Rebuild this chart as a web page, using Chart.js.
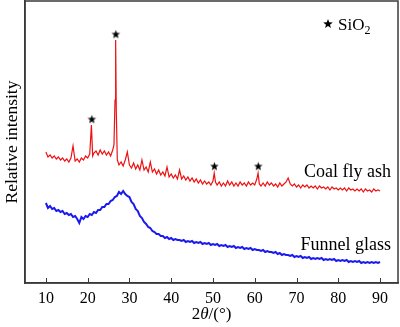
<!DOCTYPE html>
<html>
<head>
<meta charset="utf-8">
<script src="https://cdn.jsdelivr.net/npm/chart.js@4/dist/chart.umd.min.js"></script>
<style>
    html, body { margin:0; padding:0; background:#ffffff; }
    #wrap { width:400px; height:327px; position:relative; }
</style>
</head>
<body>
<div id="wrap"><canvas id="xrdChart"></canvas></div>
<script>
// =====================================================
// XRD patterns - coal fly ash / funnel glass
// =====================================================

// ---------- Data (2θ, relative intensity) ----------

const ashPoints = [
    [10,131],[10.5,126],[11,128],[11.5,125],[12,127],[12.5,124],[13,126],[13.5,123],[14,125],[14.5,122],
    [15,124],[15.5,121],[16,125],[16.5,137],[17,122],[17.5,124],[18,121],[18.5,125],[19,123],[19.5,127],
    [20,125],[20.5,129],[20.9,158],[21.2,127],[21.5,130],[22,132],[22.5,128],[23,133],[23.5,129],[24,132],
    [24.5,128],[25,131],[25.5,127],[26,133],[26.3,138],[26.55,183],[26.7,243],[26.85,173],[27.1,123],[27.5,118],
    [28,121],[28.5,117],[29,123],[29.5,131],[30,118],[30.5,115],[31,120],[31.5,114],[32,118],[32.5,113],
    [33,123],[33.5,113],[34,116],[34.5,111],[35,121],[35.5,111],[36,114],[36.5,109],[37,113],[37.5,108],
    [38,111],[38.5,107],[39,116],[39.5,106],[40,109],[40.5,105],[41,108],[41.5,104],[42,113],[42.5,104],
    [43,107],[43.5,103],[44,106],[44.5,102],[45,105],[45.5,101],[46,104],[46.5,100],[47,103],[47.5,99],
    [48,102],[48.5,99],[49,101],[49.5,98],[50,102],[50.3,110],[50.6,101],[51,98],[51.5,101],[52,97],
    [52.5,100],[53,97],[53.5,102],[54,98],[54.5,101],[55,97],[55.5,100],[56,97],[56.5,101],[57,98],
    [57.5,100],[58,97],[58.5,101],[59,98],[59.5,100],[60,98],[60.5,104],[60.8,110],[61.1,99],[61.5,97],
    [62,100],[62.5,97],[63,101],[63.5,98],[64,100],[64.5,97],[65,99],[65.5,96],[66,100],[66.5,97],
    [67,99],[67.5,101],[68,105],[68.5,99],[69,97],[69.5,99],[70,96],[70.5,98],[71,95],[71.5,98],
    [72,96],[72.5,98],[73,95],[73.5,97],[74,95],[74.5,97],[75,94],[75.5,97],[76,95],[76.5,96],
    [77,94],[77.5,96],[78,93],[78.5,96],[79,94],[79.5,95],[80,93],[80.5,95],[81,93],[81.5,95],
    [82,92],[82.5,95],[83,93],[83.5,94],[84,92],[84.5,94],[85,92],[85.5,94],[86,91],[86.5,94],
    [87,92],[87.5,93],[88,91],[88.5,94],[89,92],[89.5,93],[90,92]
];

const glassPoints = [
    [10,80],[10.5,75],[11,77],[11.5,74],[12,75],[12.5,72],[13,73],[13.5,71],[14,72],[14.5,69],
    [15,70],[15.5,68],[16,69],[16.5,66],[17,67],[17.5,64],[18,60],[18.5,66],[19,64],[19.5,67],
    [20,66],[20.5,69],[21,68],[21.5,71],[22,70],[22.5,73],[23,73],[23.5,76],[24,76],[24.5,79],
    [25,79],[25.5,82],[26,83],[26.5,86],[27,87],[27.5,91],[28,89],[28.5,92],[29,89],[29.5,87],
    [30,86],[30.5,81],[31,79],[31.5,74],[32,72],[32.5,67],[33,65],[33.5,61],[34,59],[34.5,56],
    [35,55],[35.5,52],[36,51],[36.5,49],[37,49],[37.5,47],[38,47],[38.5,45],[39,46],[39.5,44],
    [40,45],[40.5,43],[41,44],[41.5,43],[42,43],[42.5,42],[43,43],[43.5,41],[44,42],[44.5,41],
    [45,42],[45.5,40],[46,41],[46.5,40],[47,41],[47.5,39],[48,40],[48.5,39],[49,40],[49.5,38],
    [50,39],[50.5,38],[51,39],[51.5,37],[52,38],[52.5,37],[53,38],[53.5,36],[54,37],[54.5,36],
    [55,37],[55.5,35],[56,36],[56.5,35],[57,36],[57.5,34],[58,35],[58.5,34],[59,35],[59.5,33],
    [60,34],[60.5,33],[61,33],[61.5,32],[62,33],[62.5,31],[63,32],[63.5,31],[64,31],[64.5,30],
    [65,31],[65.5,29],[66,30],[66.5,28],[67,29],[67.5,28],[68,28],[68.5,27],[69,28],[69.5,26],
    [70,27],[70.5,26],[71,27],[71.5,25],[72,26],[72.5,25],[73,26],[73.5,24],[74,25],[74.5,24],
    [75,25],[75.5,24],[76,25],[76.5,23],[77,24],[77.5,23],[78,24],[78.5,23],[79,24],[79.5,22],
    [80,23],[80.5,22],[81,23],[81.5,22],[82,23],[82.5,21],[83,22],[83.5,21],[84,22],[84.5,21],
    [85,22],[85.5,20],[86,21],[86.5,20],[87,21],[87.5,20],[88,21],[88.5,20],[89,21],[89.5,20],
    [90,21]
];

// SiO2 reflections marked with a star
const peakAngles = [21.0, 26.75, 50.35, 60.85];
const peakMarks = [164, 249, 117, 117];

const tickAngles = [10, 20, 30, 40, 50, 60, 70, 80, 90];

const seriesNames = ["Coal fly ash", "Funnel glass"];
const seriesLabelPos = [[92.6, 111], [92.6, 38]];

const SERIF = '"Liberation Serif", "Times New Roman", serif';
const AXIS_COLOR = "#3a3a3a";


// =====================================================
// Star marker
// =====================================================

function starPath(ctx, cx, cy, r){

    ctx.beginPath();

    for(let i = 0; i < 10; i++){

        const a = -Math.PI / 2 + i * Math.PI / 5;
        const rr = (i % 2) ? r * 0.42 : r;

        ctx.lineTo(cx + rr * Math.cos(a), cy + rr * Math.sin(a));

    }

    ctx.closePath();

}

function makeStar(r){

    const c = document.createElement("canvas");
    const s = Math.ceil(r * 2 + 2);

    c.width = s;
    c.height = s;

    const ctx = c.getContext("2d");

    ctx.fillStyle = "#000000";
    starPath(ctx, s / 2, s / 2 + 0.5, r);
    ctx.fill();

    return c;

}


// =====================================================
// Frame, inner ticks and annotations
// =====================================================

const framePlugin = {

    id:"frame",

    afterDraw(chart){

        const ctx = chart.ctx;
        const area = chart.chartArea;
        const xs = chart.scales.x;
        const ys = chart.scales.y;

        ctx.save();

        // box
        ctx.strokeStyle = AXIS_COLOR;
        ctx.lineWidth = 1.5;
        ctx.strokeRect(area.left, area.top, area.right - area.left, area.bottom - area.top);

        // inward ticks
        ctx.lineWidth = 1;
        tickAngles.forEach(v=>{

            const px = Math.round(xs.getPixelForValue(v)) + 0.5;

            ctx.beginPath();
            ctx.moveTo(px, area.bottom);
            ctx.lineTo(px, area.bottom - 5);
            ctx.stroke();

        });

        // curve names
        ctx.fillStyle = "#000000";
        ctx.font = "18px " + SERIF;
        ctx.textAlign = "right";
        ctx.textBaseline = "middle";

        seriesNames.forEach((name, i)=>{

            ctx.fillText(name, xs.getPixelForValue(seriesLabelPos[i][0]), ys.getPixelForValue(seriesLabelPos[i][1]));

        });

        // legend  ★ SiO2
        const lx = area.right - 70;
        const ly = area.top + 23;

        starPath(ctx, lx, ly, 5);
        ctx.fill();

        ctx.textAlign = "left";
        ctx.textBaseline = "alphabetic";
        ctx.font = "17px " + SERIF;
        ctx.fillText("SiO", lx + 10, ly + 6);

        const w = ctx.measureText("SiO").width;

        ctx.font = "12px " + SERIF;
        ctx.fillText("2", lx + 10 + w, ly + 10);

        // x title  2θ/(°)
        const parts = [["2", ""], ["θ", "italic "], ["/(°)", ""]];

        let total = 0;
        parts.forEach(p=>{
            ctx.font = p[1] + "17px " + SERIF;
            total += ctx.measureText(p[0]).width;
        });

        let tx = (area.left + area.right) / 2 - total / 2;
        const ty = 315;

        ctx.textBaseline = "middle";
        parts.forEach(p=>{
            ctx.font = p[1] + "17px " + SERIF;
            ctx.fillText(p[0], tx, ty);
            tx += ctx.measureText(p[0]).width;
        });

        ctx.restore();

    }

};


// =====================================================
// Chart
// =====================================================

const canvas = document.getElementById("xrdChart");

const xrdChart = new Chart(canvas,{

    type:"line",

    data:{

        datasets:[

            {
                label:"Coal fly ash",
                data:ashPoints.map(p=>({x:p[0], y:p[1]})),
                borderColor:"#ee1111",
                borderWidth:1.2,
                pointRadius:0,
                tension:0
            },

            {
                label:"Funnel glass",
                data:glassPoints.map(p=>({x:p[0], y:p[1]})),
                borderColor:"#1a1aee",
                borderWidth:2,
                pointRadius:0,
                tension:0
            },

            {
                label:"SiO2",
                data:peakAngles.map((a, i)=>({x:a, y:peakMarks[i]})),
                showLine:false,
                pointStyle:makeStar(4.5),
                pointRadius:5
            }

        ]

    },

    options:{

        responsive:true,
        maintainAspectRatio:false,
        animation:false,

        layout:{
            autoPadding:false,
            padding:{ top:1, right:2, left:0, bottom:0 }
        },

        plugins:{
            legend:{ display:false },
            tooltip:{ enabled:false }
        },

        scales:{

            x:{
                type:"linear",
                min:5,
                max:94.3,
                afterBuildTicks:(scale)=>{
                    scale.ticks = tickAngles.map(v=>({value:v}));
                },
                afterFit:(scale)=>{
                    scale.height = 44;
                    scale.paddingLeft = 0;
                    scale.paddingRight = 0;
                },
                grid:{ display:false, drawTicks:false },
                border:{ display:true, color:AXIS_COLOR, width:1.5 },
                ticks:{
                    color:"#000000",
                    padding:6,
                    maxRotation:0,
                    font:{ family:SERIF, size:16 }
                },
                title:{ display:false }
            },

            y:{
                min:0,
                max:282,
                afterFit:(scale)=>{
                    scale.width = 25;
                    scale.paddingTop = 0;
                    scale.paddingBottom = 0;
                },
                grid:{ display:false, drawTicks:false },
                border:{ display:true, color:AXIS_COLOR, width:1.5 },
                ticks:{ display:false },
                title:{
                    display:true,
                    text:"Relative intensity",
                    color:"#000000",
                    padding:{ top:2, bottom:0 },
                    font:{ family:SERIF, size:17.5 }
                }
            }

        }

    },

    plugins:[framePlugin]

});
</script>
</body>
</html>
